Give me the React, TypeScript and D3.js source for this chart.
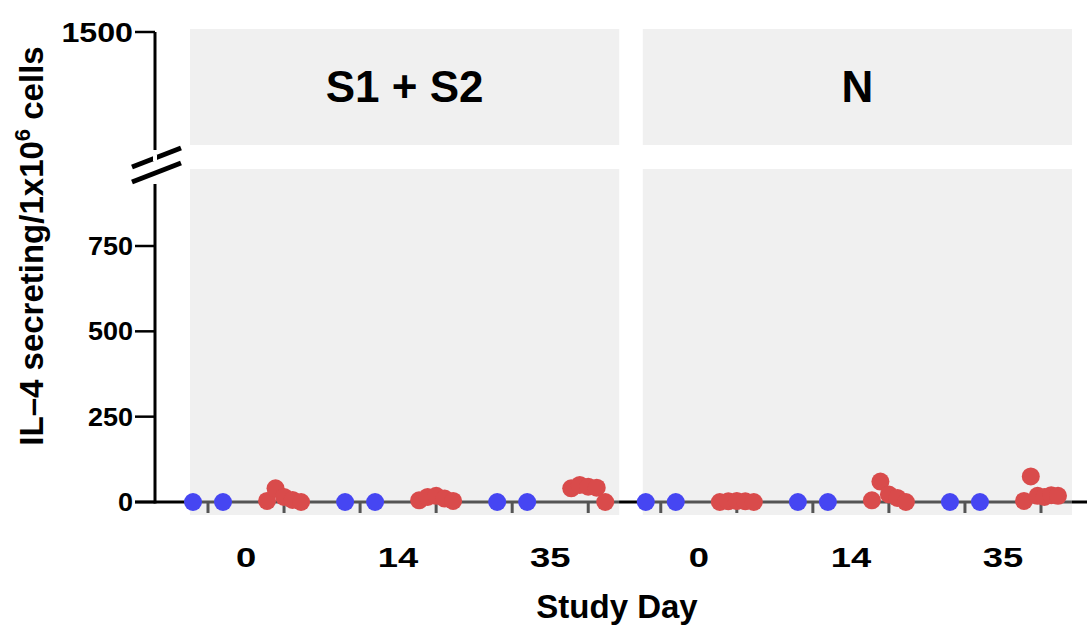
import { useEffect, useRef } from "react";
import * as d3 from "d3";

// facets, days and the two groups of dots
const facets = ["S1 + S2", "N"];
const days = ["0", "14", "35"];
const groups = ["blue", "red"];

// values per facet, per day
const blueValues = [
  [[0, 0], [0, 0], [0, 0]],
  [[0, 0], [0, 0], [0, 0]],
];
const redValues = [
  [[3, 40, 15, 6, 0], [5, 15, 18, 10, 3], [40, 50, 45, 42, 0]],
  [[0, 2, 3, 2, 0], [5, 60, 22, 12, 0], [3, 75, 18, 15, 20, 18]],
];

const yTicks = [0, 250, 500, 750];
const yTopTick = 1500;

const W = 1087;
const H = 634;
const FONT = "'Liberation Sans', Arial, Helvetica, sans-serif";

export default function App() {
  const svgRef = useRef<SVGSVGElement | null>(null);

  useEffect(() => {
    const svgEl = svgRef.current;
    if (!svgEl) return;
    const svg = d3.select(svgEl);
    svg.selectAll("*").remove();

    const axisX = 155;
    const y = d3.scaleLinear().domain([0, 750]).range([502, 246]);
    const yTop = d3.scaleLinear().domain([1000, 1500]).range([150, 32]);

    const facetX = d3.scaleBand().domain(facets).range([190, 1072]).paddingInner(0.052);
    const slots = days.flatMap((d) => groups.map((g) => `${d}|${g}`));
    const slotX = (facet: string) =>
      d3
        .scalePoint()
        .domain(slots)
        .range([(facetX(facet) as number) + 18, (facetX(facet) as number) + facetX.bandwidth() - 31]);

    // x axis baseline + ticks (black, later greyed by the panels)
    svg.append("line")
      .attr("x1", 135).attr("x2", W)
      .attr("y1", y(0)).attr("y2", y(0))
      .attr("stroke", "#000").attr("stroke-width", 3);

    facets.forEach((f) => {
      const sx = slotX(f);
      slots.forEach((s) => {
        svg.append("line")
          .attr("x1", sx(s)!).attr("x2", sx(s)!)
          .attr("y1", y(0)).attr("y2", y(0) + 11)
          .attr("stroke", "#000").attr("stroke-width", 3);
      });
    });

    // grey panels (translucent so the axis shows through darker)
    const upper = { top: 29, bottom: 145 };
    const lower = { top: 169, bottom: 515 };
    facets.forEach((f) => {
      const x0 = facetX(f) as number;
      [upper, lower].forEach((p) => {
        svg.append("rect")
          .attr("x", x0).attr("y", p.top)
          .attr("width", facetX.bandwidth()).attr("height", p.bottom - p.top)
          .attr("fill", "#d9d9d9").attr("fill-opacity", 0.39);
      });
      svg.append("text")
        .attr("x", x0 + facetX.bandwidth() / 2).attr("y", 102)
        .attr("text-anchor", "middle")
        .attr("font-family", FONT).attr("font-weight", "bold").attr("font-size", 44)
        .text(f);
    });

    // y axis, broken
    svg.append("line")
      .attr("x1", axisX).attr("x2", axisX)
      .attr("y1", yTop(yTopTick)).attr("y2", yTop(1000))
      .attr("stroke", "#000").attr("stroke-width", 3);
    svg.append("line")
      .attr("x1", axisX).attr("x2", axisX)
      .attr("y1", 184).attr("y2", y(0) + 1.5)
      .attr("stroke", "#000").attr("stroke-width", 3);
    [0, 15].forEach((off) => {
      svg.append("line")
        .attr("x1", 132).attr("y1", 167 + off)
        .attr("x2", 181).attr("y2", 148 + off)
        .attr("stroke", "#000").attr("stroke-width", 5);
    });
    svg.append("rect")
      .attr("x", axisX - 2).attr("y", 155).attr("width", 4).attr("height", 6)
      .attr("fill", "#fff");

    const tick = (yy: number, label: string, fs: number, sx: number) => {
      svg.append("line")
        .attr("x1", 135).attr("x2", axisX)
        .attr("y1", yy).attr("y2", yy)
        .attr("stroke", "#000").attr("stroke-width", 2.5);
      svg.append("text")
        .attr("transform", `translate(133,${yy}) scale(${sx},1)`)
        .attr("text-anchor", "end").attr("dy", "0.36em")
        .attr("font-family", FONT).attr("font-weight", "bold").attr("font-size", fs)
        .text(label);
    };
    yTicks.forEach((t) => tick(y(t), String(t), 25, 1.08));
    tick(yTop(yTopTick), String(yTopTick), 28, 1.15);

    // x tick labels
    facets.forEach((f) => {
      const sx = slotX(f);
      days.forEach((d) => {
        const cx = (sx(`${d}|blue`)! + sx(`${d}|red`)!) / 2;
        svg.append("text")
          .attr("transform", `translate(${cx},567) scale(1.3,1)`)
          .attr("text-anchor", "middle")
          .attr("font-family", FONT).attr("font-weight", "bold").attr("font-size", 28)
          .text(d);
      });
    });

    // points
    const drawDots = (vals: number[], cx: number, spread: number, color: string) => {
      vals.forEach((v, i) => {
        const off = vals.length > 1 ? -spread / 2 + (spread * i) / (vals.length - 1) : 0;
        svg.append("circle")
          .attr("cx", cx + off).attr("cy", y(v))
          .attr("r", 9)
          .attr("fill", color);
      });
    };
    facets.forEach((f, fi) => {
      const sx = slotX(f);
      days.forEach((d, di) => {
        drawDots(blueValues[fi][di], sx(`${d}|blue`)!, 30, "#4646f2");
        drawDots(redValues[fi][di], sx(`${d}|red`)!, 34, "#d94b4b");
      });
    });

    // titles
    svg.append("text")
      .attr("x", 617).attr("y", 618)
      .attr("text-anchor", "middle")
      .attr("font-family", FONT).attr("font-weight", "bold").attr("font-size", 33)
      .text("Study Day");

    const yt = svg.append("text")
      .attr("transform", "translate(43,246) rotate(-90)")
      .attr("text-anchor", "middle")
      .attr("font-family", FONT).attr("font-weight", "bold").attr("font-size", 33);
    yt.append("tspan").text("IL\u20134 secreting/1x10");
    yt.append("tspan").attr("dy", -13).attr("font-size", 22).text("6");
    yt.append("tspan").attr("dy", 13).text(" cells");
  }, []);

  return (
    <svg
      ref={svgRef}
      width={W}
      height={H}
      style={{ position: "absolute", left: 0, top: 0, background: "#fff" }}
    />
  );
}
